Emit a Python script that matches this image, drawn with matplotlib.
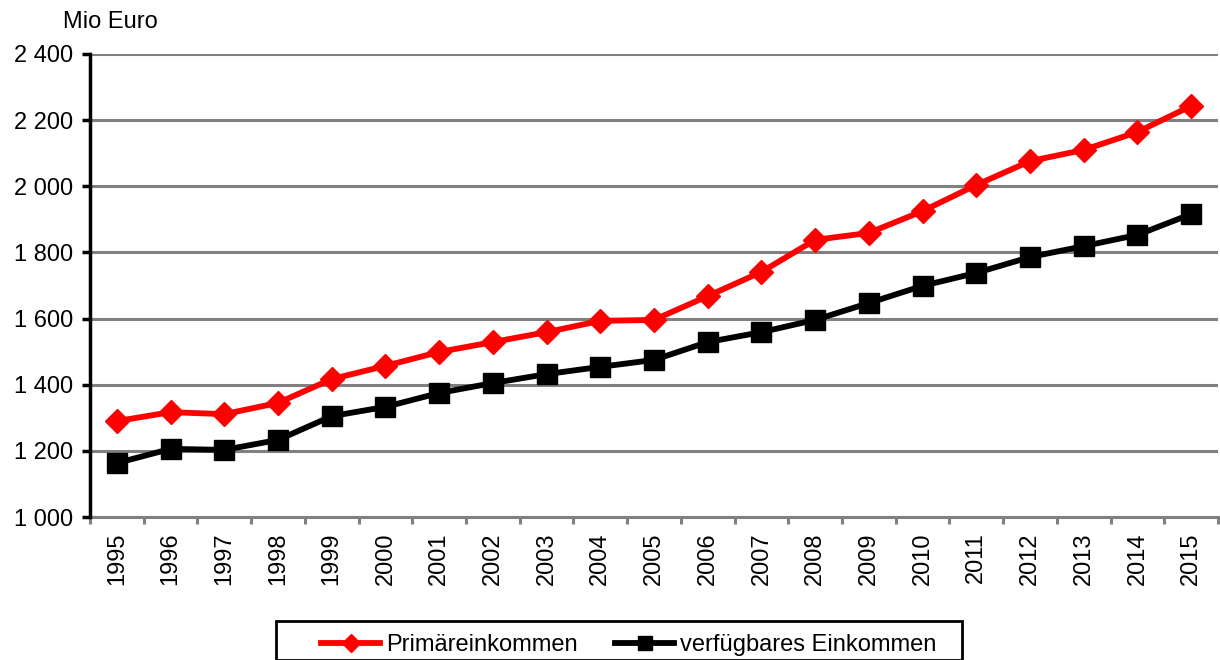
import matplotlib
matplotlib.use("Agg")
import matplotlib.pyplot as plt
from matplotlib.patches import Rectangle
import numpy as np

years = [str(y) for y in range(1995, 2016)]
primaer = [1290, 1317, 1311, 1345, 1417, 1457, 1499, 1529, 1559, 1593, 1596,
           1668, 1741, 1838, 1859, 1925, 2004, 2076, 2110, 2164, 2243]
verfuegbar = [1163, 1206, 1203, 1233, 1305, 1333, 1375, 1405, 1432, 1454, 1475,
              1529, 1559, 1596, 1647, 1699, 1738, 1786, 1819, 1853, 1916]
yticks = [1000, 1200, 1400, 1600, 1800, 2000, 2200, 2400]
ytick_labels = ["1 000", "1 200", "1 400", "1 600", "1 800", "2 000", "2 200", "2 400"]

plt.rcParams['font.family'] = ['Liberation Sans', 'DejaVu Sans']

W, H = 1220, 660
fig = plt.figure(figsize=(W/100, H/100), dpi=100)
ax = fig.add_axes([90/W, 1-517/H, (1218-90)/W, (517-54)/H])

x = np.arange(len(years))
ax.plot(x, primaer, color='#ff0000', lw=4.2, marker='D', ms=12.5, mec='#ff0000',
        label='Primäreinkommen', zorder=3, clip_on=False)
ax.plot(x, verfuegbar, color='black', lw=4.2, marker='s', ms=14.5,
        label='verfügbares Einkommen', zorder=3, clip_on=False)

ax.set_xlim(-0.5, len(years) - 0.5)
ax.set_ylim(1000, 2400)
ax.set_yticks(yticks)
ax.set_yticklabels(ytick_labels, fontsize=17)
ax.yaxis.grid(True, color='#808080', lw=2.2)
ax.set_axisbelow(True)

ax.set_xticks(x)
ax.set_xticklabels(years, rotation=90, fontsize=17)
ax.tick_params(axis='x', length=0, pad=11)
ax.set_xticks(np.arange(-0.5, len(years)), minor=True)
ax.tick_params(axis='x', which='minor', length=5, width=2.2, color='#808080', direction='out')
ax.tick_params(axis='y', length=6, width=2.5, color='black', direction='out', pad=6)

for s in ['top', 'right']:
    ax.spines[s].set_visible(False)
ax.spines['left'].set_linewidth(2.5)
ax.spines['left'].set_color('black')
ax.spines['left'].set_zorder(4)
ax.spines['bottom'].set_linewidth(2.2)
ax.spines['bottom'].set_color('#808080')

fig.text(63/W, 1-22/H, 'Mio Euro', fontsize=17, va='center', ha='left')

# legend frame drawn in figure pixels
frame = Rectangle((276/W, 0), (962-276)/W, (H-621)/H, transform=fig.transFigure,
                  fill=False, edgecolor='black', lw=2, zorder=5, clip_on=False)
fig.add_artist(frame)

leg = fig.legend(loc='center left', bbox_to_anchor=(321/W, 1-645/H), ncol=2,
                 fontsize=17, frameon=False, handlelength=2.5, handletextpad=0.25,
                 columnspacing=1.6, markerscale=0.7, borderpad=0, borderaxespad=0)

fig.savefig('out.png', dpi=100)
